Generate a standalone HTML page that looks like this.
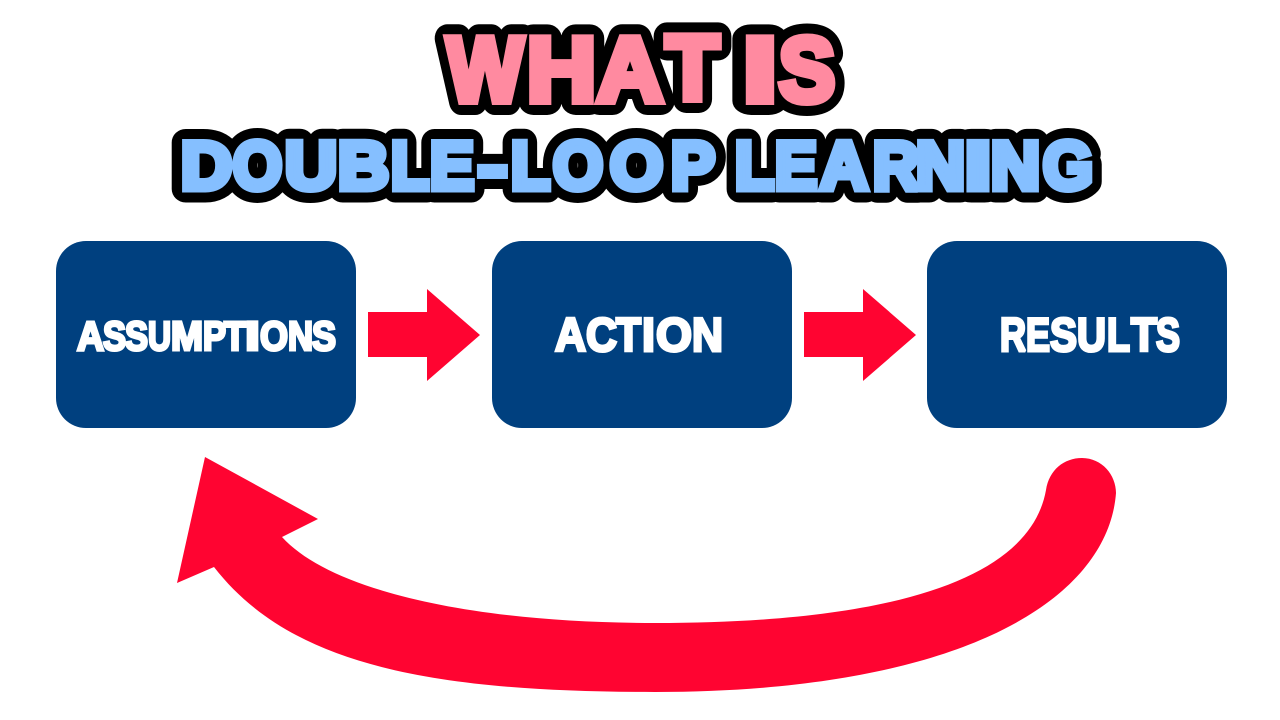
<!DOCTYPE html>
<html><head><meta charset="utf-8"><style>
html,body{margin:0;padding:0;background:#fff;width:1280px;height:720px;overflow:hidden}
svg{display:block}
text{font-family:"Liberation Sans",sans-serif;font-weight:bold}
.o1 text{fill:#000;stroke:#000;stroke-width:28px;stroke-linejoin:round}
.o2 text{fill:#000;stroke:#000;stroke-width:27px;stroke-linejoin:round}
.p text{fill:#ff8aa0;stroke:#ff8aa0;stroke-width:8px;stroke-linejoin:miter;stroke-miterlimit:2}
.b text{fill:#85bfff;stroke:#85bfff;stroke-width:7px;stroke-linejoin:miter;stroke-miterlimit:2}
.w text{fill:#fff;stroke:#fff;stroke-width:3px;stroke-linejoin:miter;stroke-miterlimit:2}
.l1 text{font-size:91px}
.l2 text{font-size:68px}
</style></head><body>
<svg width="1280" height="720" viewBox="0 0 1280 720" xmlns="http://www.w3.org/2000/svg">
<defs></defs>
<g class="o1 l1">
<text x="447" y="101" textLength="76" lengthAdjust="spacingAndGlyphs">W</text>
<text x="527" y="101" textLength="69" lengthAdjust="spacingAndGlyphs">H</text>
<text x="597" y="101" textLength="66" lengthAdjust="spacingAndGlyphs">A</text>
<text x="666" y="99" textLength="53" lengthAdjust="spacingAndGlyphs">T</text>
<text x="743" y="101" textLength="34" lengthAdjust="spacingAndGlyphs">I</text>
<text x="779" y="101" textLength="56" lengthAdjust="spacingAndGlyphs">S</text>
</g>
<g class="p l1">
<text x="447" y="101" textLength="76" lengthAdjust="spacingAndGlyphs">W</text>
<text x="527" y="101" textLength="69" lengthAdjust="spacingAndGlyphs">H</text>
<text x="597" y="101" textLength="66" lengthAdjust="spacingAndGlyphs">A</text>
<text x="666" y="99" textLength="53" lengthAdjust="spacingAndGlyphs">T</text>
<text x="743" y="101" textLength="34" lengthAdjust="spacingAndGlyphs">I</text>
<text x="779" y="101" textLength="56" lengthAdjust="spacingAndGlyphs">S</text>
</g>
<g class="o2 l2">
<text x="181" y="189" textLength="51" lengthAdjust="spacingAndGlyphs">D</text>
<text x="233" y="189" textLength="49" lengthAdjust="spacingAndGlyphs">O</text>
<text x="285" y="189" textLength="52" lengthAdjust="spacingAndGlyphs">U</text>
<text x="338" y="189" textLength="51" lengthAdjust="spacingAndGlyphs">B</text>
<text x="391" y="189" textLength="38" lengthAdjust="spacingAndGlyphs">L</text>
<text x="430" y="189" textLength="44" lengthAdjust="spacingAndGlyphs">E</text>
<text x="478" y="189" textLength="29" lengthAdjust="spacingAndGlyphs">-</text>
<text x="511" y="189" textLength="39" lengthAdjust="spacingAndGlyphs">L</text>
<text x="553" y="189" textLength="50" lengthAdjust="spacingAndGlyphs">O</text>
<text x="610" y="189" textLength="53" lengthAdjust="spacingAndGlyphs">O</text>
<text x="671" y="189" textLength="44" lengthAdjust="spacingAndGlyphs">P</text>
<text x="735" y="189" textLength="39" lengthAdjust="spacingAndGlyphs">L</text>
<text x="775" y="189" textLength="42" lengthAdjust="spacingAndGlyphs">E</text>
<text x="820" y="189" textLength="48" lengthAdjust="spacingAndGlyphs">A</text>
<text x="873" y="189" textLength="46" lengthAdjust="spacingAndGlyphs">R</text>
<text x="916" y="189" textLength="49" lengthAdjust="spacingAndGlyphs">N</text>
<text x="965" y="189" textLength="26" lengthAdjust="spacingAndGlyphs">I</text>
<text x="991" y="189" textLength="49" lengthAdjust="spacingAndGlyphs">N</text>
<text x="1043" y="189" textLength="50" lengthAdjust="spacingAndGlyphs">G</text>
</g>
<g class="b l2">
<text x="181" y="189" textLength="51" lengthAdjust="spacingAndGlyphs">D</text>
<text x="233" y="189" textLength="49" lengthAdjust="spacingAndGlyphs">O</text>
<text x="285" y="189" textLength="52" lengthAdjust="spacingAndGlyphs">U</text>
<text x="338" y="189" textLength="51" lengthAdjust="spacingAndGlyphs">B</text>
<text x="391" y="189" textLength="38" lengthAdjust="spacingAndGlyphs">L</text>
<text x="430" y="189" textLength="44" lengthAdjust="spacingAndGlyphs">E</text>
<text x="478" y="189" textLength="29" lengthAdjust="spacingAndGlyphs">-</text>
<text x="511" y="189" textLength="39" lengthAdjust="spacingAndGlyphs">L</text>
<text x="553" y="189" textLength="50" lengthAdjust="spacingAndGlyphs">O</text>
<text x="610" y="189" textLength="53" lengthAdjust="spacingAndGlyphs">O</text>
<text x="671" y="189" textLength="44" lengthAdjust="spacingAndGlyphs">P</text>
<text x="735" y="189" textLength="39" lengthAdjust="spacingAndGlyphs">L</text>
<text x="775" y="189" textLength="42" lengthAdjust="spacingAndGlyphs">E</text>
<text x="820" y="189" textLength="48" lengthAdjust="spacingAndGlyphs">A</text>
<text x="873" y="189" textLength="46" lengthAdjust="spacingAndGlyphs">R</text>
<text x="916" y="189" textLength="49" lengthAdjust="spacingAndGlyphs">N</text>
<text x="965" y="189" textLength="26" lengthAdjust="spacingAndGlyphs">I</text>
<text x="991" y="189" textLength="49" lengthAdjust="spacingAndGlyphs">N</text>
<text x="1043" y="189" textLength="50" lengthAdjust="spacingAndGlyphs">G</text>
</g>
<rect x="56" y="241" width="300" height="187" rx="30" fill="#00407f"/>
<rect x="492" y="241" width="300" height="187" rx="30" fill="#00407f"/>
<rect x="927" y="241" width="300" height="187" rx="30" fill="#00407f"/>
<g class="w" font-size="41">
<text x="77" y="350" textLength="27" lengthAdjust="spacingAndGlyphs">A</text>
<text x="103" y="350" textLength="23" lengthAdjust="spacingAndGlyphs">S</text>
<text x="125" y="350" textLength="23" lengthAdjust="spacingAndGlyphs">S</text>
<text x="148" y="350" textLength="23" lengthAdjust="spacingAndGlyphs">U</text>
<text x="171" y="350" textLength="32" lengthAdjust="spacingAndGlyphs">M</text>
<text x="203" y="350" textLength="23" lengthAdjust="spacingAndGlyphs">P</text>
<text x="224" y="350" textLength="22" lengthAdjust="spacingAndGlyphs">T</text>
<text x="245" y="350" textLength="15" lengthAdjust="spacingAndGlyphs">I</text>
<text x="260" y="350" textLength="28" lengthAdjust="spacingAndGlyphs">O</text>
<text x="288" y="350" textLength="25" lengthAdjust="spacingAndGlyphs">N</text>
<text x="312" y="350" textLength="24" lengthAdjust="spacingAndGlyphs">S</text>
</g>
<g class="w" font-size="47">
<text x="555" y="351" textLength="31" lengthAdjust="spacingAndGlyphs">A</text>
<text x="586" y="351" textLength="31" lengthAdjust="spacingAndGlyphs">C</text>
<text x="616" y="351" textLength="25" lengthAdjust="spacingAndGlyphs">T</text>
<text x="642" y="351" textLength="13" lengthAdjust="spacingAndGlyphs">I</text>
<text x="656" y="351" textLength="36" lengthAdjust="spacingAndGlyphs">O</text>
<text x="692" y="351" textLength="31" lengthAdjust="spacingAndGlyphs">N</text>
</g>
<g class="w" font-size="47">
<text x="1000" y="351" textLength="26" lengthAdjust="spacingAndGlyphs">R</text>
<text x="1026" y="351" textLength="24" lengthAdjust="spacingAndGlyphs">E</text>
<text x="1050" y="351" textLength="27" lengthAdjust="spacingAndGlyphs">S</text>
<text x="1077" y="351" textLength="29" lengthAdjust="spacingAndGlyphs">U</text>
<text x="1107" y="351" textLength="23" lengthAdjust="spacingAndGlyphs">L</text>
<text x="1131" y="351" textLength="26" lengthAdjust="spacingAndGlyphs">T</text>
<text x="1156" y="351" textLength="24" lengthAdjust="spacingAndGlyphs">S</text>
</g>
<polygon points="368,312 427,312 427,289 480,335 427,381 427,357 368,357" fill="#ff0431"/>
<polygon points="804,312 863,312 863,289 916,335 863,381 863,357 804,357" fill="#ff0431"/>
<path d="M205,457 L318,519 L282,537 C330,590 470,623 655,623 C890,623 1030,580 1046,490 C1049,470 1064,458 1082,458 C1102,458 1116,475 1116,493 C1108,600 960,692 655,692 C430,692 290,665 214,567 L177,583 Z" fill="#ff0431"/>
</svg>
</body></html>
